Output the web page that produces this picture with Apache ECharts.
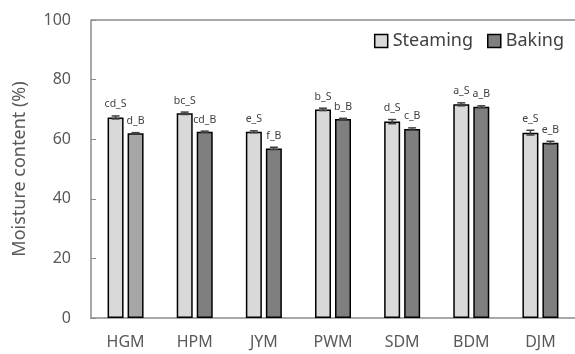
<!DOCTYPE html>
<html>
<head>
<meta charset="utf-8">
<script src="https://cdn.jsdelivr.net/npm/echarts@6/dist/echarts.min.js"></script>
<style>html,body{margin:0;padding:0;background:#fff}#c{width:575px;height:354px}</style>
</head>
<body>
<div id="c"></div>
<script>
var categories = ['HGM','HPM','JYM','PWM','SDM','BDM','DJM'];
var steaming = [67.3, 68.7, 62.5, 70.0, 65.9, 71.7, 62.2];
var baking = [62.0, 62.5, 56.9, 66.8, 63.4, 70.9, 58.8];
var steamingErr = [0.5, 0.4, 0.3, 0.4, 0.7, 0.5, 0.8];
var bakingErr = [0.2, 0.2, 0.4, 0.2, 0.4, 0.3, 0.5];
var steamingLetters = ['cd_S','bc_S','e_S','b_S','d_S','a_S','e_S'];
var bakingLetters = ['d_B','cd_B','f_B','b_B','c_B','a_B','e_B'];
var yTicks = [0, 20, 40, 60, 80, 100];

var FONT = 'Noto Sans';
var chart = echarts.init(document.getElementById('c'));

function errSeries(vals, errs, letters, off) {
  return {
    type: 'custom',
    silent: true,
    z: 5,
    data: vals.map(function (v, i) { return [i, v, errs[i], letters[i]]; }),
    renderItem: function (params, api) {
      var i = api.value(0), v = api.value(1), e = api.value(2);
      var hi = api.coord([i, v + e]);
      var lo = api.coord([i, v - e]);
      var x = hi[0] + off;
      var cw = 4;
      return {
        type: 'group',
        children: [
          {type: 'line', shape: {x1: x, y1: hi[1], x2: x, y2: lo[1]}, style: {stroke: '#404040', lineWidth: 1.5}},
          {type: 'line', shape: {x1: x - cw, y1: hi[1], x2: x + cw, y2: hi[1]}, style: {stroke: '#404040', lineWidth: 1.5}},
          {type: 'line', shape: {x1: x - cw, y1: lo[1], x2: x + cw, y2: lo[1]}, style: {stroke: '#404040', lineWidth: 1.5}},
          {type: 'text', style: {x: x, y: hi[1] - 6, text: letters[i], textAlign: 'center', textVerticalAlign: 'bottom', fontSize: 10.5, fontFamily: FONT, fill: '#404040'}}
        ]
      };
    }
  };
}

chart.setOption({
  animation: false,
  grid: {left: 91, right: -9, top: 20, bottom: 36},
  legend: {
    top: 27, right: 6, itemWidth: 13, itemHeight: 13, itemGap: 14,
    textStyle: {fontSize: 18, fontFamily: FONT, color: '#404040'},
    data: [
      {name: 'Steaming', icon: 'rect', itemStyle: {color: '#d9d9d9', borderColor: '#000', borderWidth: 1.5}},
      {name: 'Baking', icon: 'rect', itemStyle: {color: '#7f7f7f', borderColor: '#000', borderWidth: 1.5}}
    ]
  },
  xAxis: {
    type: 'category', data: categories,
    axisLine: {lineStyle: {color: '#8c8c8c', width: 1.5}},
    axisTick: {show: false},
    axisLabel: {fontSize: 16, fontFamily: FONT, color: '#595959', margin: 16}
  },
  yAxis: {
    type: 'value', min: yTicks[0], max: yTicks[yTicks.length - 1], interval: 20,
    name: 'Moisture content (%)', nameLocation: 'middle', nameGap: 62, nameRotate: 90,
    nameTextStyle: {fontSize: 18, fontFamily: FONT, color: '#595959'},
    axisLine: {show: true, lineStyle: {color: '#8c8c8c', width: 1.5}},
    axisTick: {show: true, inside: true, length: 5, lineStyle: {color: '#8c8c8c'}},
    splitLine: {show: true, lineStyle: {width: 1.5, color: ['rgba(0,0,0,0)','rgba(0,0,0,0)','rgba(0,0,0,0)','rgba(0,0,0,0)','rgba(0,0,0,0)','#8c8c8c']}},
    axisLabel: {fontSize: 16, fontFamily: FONT, color: '#595959', margin: 20}
  },
  series: [
    {name: 'Steaming', type: 'bar', data: steaming, barWidth: 16, barGap: '25%',
     itemStyle: {color: '#d9d9d9', borderColor: '#000', borderWidth: 1.5}},
    {name: 'Baking', type: 'bar', barWidth: 16,
     data: baking.map(function (v, i) { return i === 0 ? {value: v, itemStyle: {color: '#a6a6a6', borderColor: '#000', borderWidth: 1.5}} : v; }),
     itemStyle: {color: '#7f7f7f', borderColor: '#000', borderWidth: 1.5}},
    errSeries(steaming, steamingErr, steamingLetters, -10),
    errSeries(baking, bakingErr, bakingLetters, 10)
  ]
});
</script>
</body>
</html>
